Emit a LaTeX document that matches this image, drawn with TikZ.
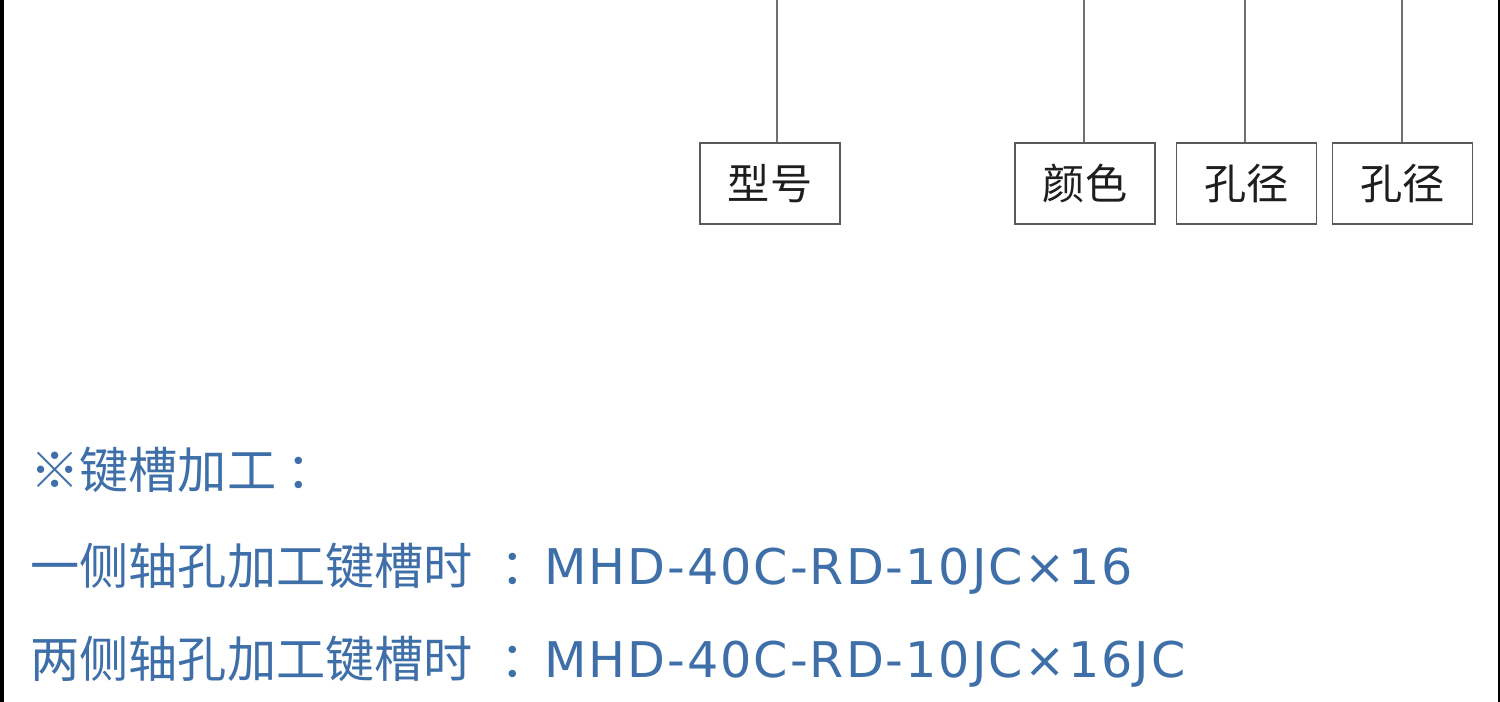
\documentclass[tikz,border=0pt]{standalone}
\usepackage{fontspec}
\usepackage{xcolor}
\usepackage{tikz}
\usetikzlibrary{positioning,calc}
\newfontfamily\cjk{Noto Sans CJK SC}
\newfontfamily\codefont[LetterSpace=4]{DejaVu Sans}
\definecolor{kblue}{HTML}{3F6FA8}
\definecolor{kline}{HTML}{707070}
\definecolor{kbox}{HTML}{5A5A5A}
\definecolor{ktext}{HTML}{1E1E1E}
\tikzset{
  % label box under a code segment
  partbox/.style = {rectangle, draw=kbox, line width=0.9pt, fill=white,
                    minimum width=2.8cm, minimum height=1.62cm, inner sep=0pt,
                    font=\cjk\fontsize{24}{28}\selectfont, text=ktext},
  lead/.style    = {kline, line width=1.4pt},
  note/.style    = {anchor=west, inner sep=0pt, text=kblue,
                    font=\cjk\fontsize{28}{32}\selectfont},
}
\newcommand{\partcode}[1]{\kern0.55em：\kern-0.1em{\codefont #1}}
\begin{document}
\begin{tikzpicture}[x=0.02cm,y=-0.02cm]
\useasboundingbox (0,0) rectangle (1500,702);
% ---- scan edges -----------------------------------------------------
\fill[black] (0,0) rectangle (4,702);
\fill[black] (1497.5,0) rectangle (1500,702);

% ---- part boxes -----------------------------------------------------
\node[partbox] (xinghao)   at (770,183.5)  {型号};
\node[partbox] (yanse)     at (1085,183.5) {颜色};
\node[partbox] (kongjinga) at (1246.5,183.5) {孔径};
\node[partbox] (kongjingb) at (1402.5,183.5) {孔径};

% ---- leads from the code above --------------------------------------
\coordinate (ta) at (777,0);
\coordinate (tb) at (1084,0);
\coordinate (tc) at (1245,0);
\coordinate (td) at (1402,0);
\draw[lead] (ta) -- (ta |- xinghao.north);
\draw[lead] (tb) -- (tb |- yanse.north);
\draw[lead] (tc) -- (tc |- kongjinga.north);
\draw[lead] (td) -- (td |- kongjingb.north);

% ---- keyway notes ---------------------------------------------------
\node[note] (title) at (30,470) {※键槽加工\kern0.2em：};
\node[note] (one)   at (30,569) {一侧轴孔加工键槽时\partcode{MHD-40C-RD-10JC×16}};
\node[note] (two)   at (30,662) {两侧轴孔加工键槽时\partcode{MHD-40C-RD-10JC×16JC}};
\end{tikzpicture}
\end{document}
